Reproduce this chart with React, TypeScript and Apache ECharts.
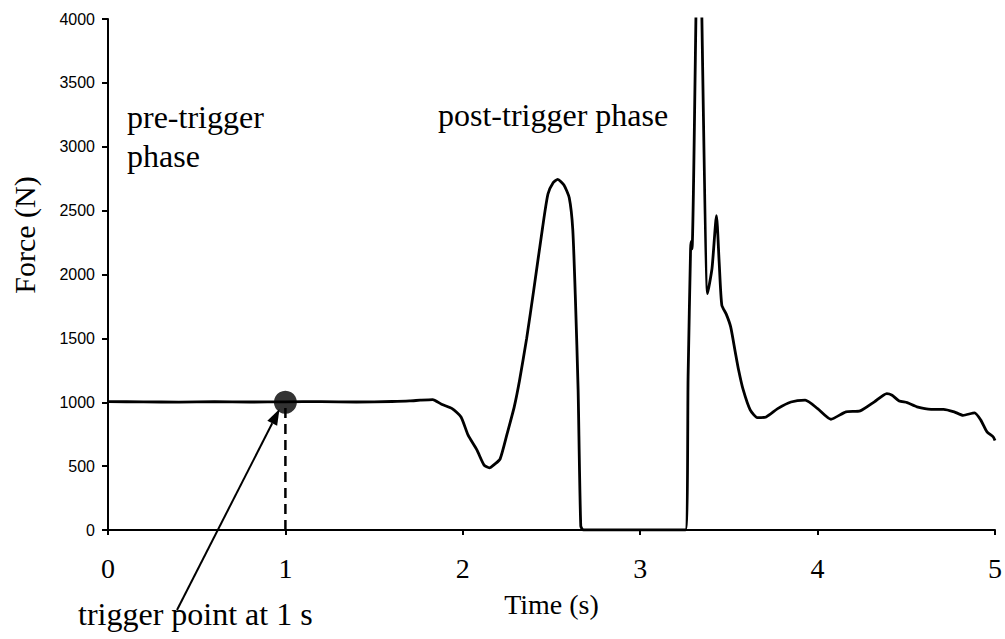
import React, { useEffect, useRef } from "react";
import * as echarts from "echarts";

const timeS: number[] = [
  0, 0.2, 0.4, 0.6, 0.8, 1.0, 1.2, 1.4, 1.6, 1.7, 1.76, 1.83, 1.88, 1.94, 1.99, 2.03, 2.08, 2.12, 2.15,
  2.18, 2.21, 2.25, 2.29, 2.32, 2.36, 2.4, 2.45, 2.48, 2.51, 2.535, 2.57, 2.6, 2.62, 2.635, 2.65, 2.665,
  2.68, 3.0, 3.255, 3.27, 3.284, 3.288, 3.292, 3.33, 3.38, 3.405, 3.43, 3.445, 3.46, 3.485, 3.51, 3.535,
  3.555, 3.58, 3.62, 3.66, 3.71, 3.775, 3.85, 3.93, 4.0, 4.075, 4.16, 4.24, 4.32, 4.39, 4.42, 4.46, 4.505,
  4.56, 4.64, 4.71, 4.77, 4.82, 4.885, 4.92, 4.955, 4.99, 5.0,
];
const forceN: number[] = [
  1005, 1003, 1001, 1004, 1002, 1003, 1005, 1002, 1006, 1010, 1016, 1021, 984, 950, 885, 742, 625, 508, 487,
  516, 555, 755, 964, 1172, 1500, 1880, 2370, 2630, 2720, 2745, 2700, 2600, 2350, 1800, 1100, 30,
  0, 0, 0, 1200, 2200, 2260, 2200, 5200, 1850, 2050, 2460, 2100, 1760, 1690, 1590, 1400,
  1250, 1100, 940, 880, 885, 950, 1002, 1016, 950, 867, 925, 932, 1003, 1068, 1055, 1010, 997,
  964, 945, 945, 925, 898, 917, 860, 768, 729, 700,
];
const xTicks: number[] = [0, 1, 2, 3, 4, 5];
const yTicks: number[] = [0, 500, 1000, 1500, 2000, 2500, 3000, 3500, 4000];
const triggerTime: number[] = [1];
const triggerForce: number[] = [1000];

const SERIF = "'Liberation Serif', 'Times New Roman', serif";

export default function App() {
  const ref = useRef<HTMLDivElement>(null);
  useEffect(() => {
    if (!ref.current) return;
    const chart = echarts.init(ref.current, undefined, { renderer: "svg" });
    const curve = timeS.map((t, i) => [t, forceN[i]]);
    const trig = triggerTime.map((t, i) => [t, triggerForce[i]]);
    const dashed = [
      [triggerTime[0], 0],
      [triggerTime[0], triggerForce[0]],
    ];
    // arrow geometry (annotation)
    const tail = [177, 610];
    const tip = [279.5, 409];
    const dx = tip[0] - tail[0];
    const dy = tip[1] - tail[1];
    const len = Math.sqrt(dx * dx + dy * dy);
    const ux = dx / len, uy = dy / len;
    const hl = 16, hw = 5.5;
    const bx = tip[0] - hl * ux, by = tip[1] - hl * uy;
    const nx = -uy, ny = ux;

    chart.setOption({
      animation: false,
      backgroundColor: "#ffffff",
      grid: { left: 108, right: 7, top: 19, bottom: 109, containLabel: false },
      xAxis: {
        type: "value",
        min: xTicks[0],
        max: xTicks[xTicks.length - 1],
        interval: 1,
        name: "Time (s)",
        nameLocation: "middle",
        nameGap: 60,
        nameTextStyle: { fontFamily: SERIF, fontSize: 28, color: "#000" },
        axisLine: { onZero: false, lineStyle: { color: "#000", width: 2 } },
        axisTick: { show: true, inside: false, length: 5, lineStyle: { color: "#000", width: 2 } },
        axisLabel: { fontFamily: SERIF, fontSize: 28, color: "#000", margin: 24, formatter: (v: number) => String(v) },
        splitLine: { show: false },
      },
      yAxis: {
        type: "value",
        min: yTicks[0],
        max: yTicks[yTicks.length - 1],
        interval: 500,
        axisLine: { show: true, lineStyle: { color: "#000", width: 2 } },
        axisTick: { show: true, inside: false, length: 6, lineStyle: { color: "#000", width: 2 } },
        axisLabel: {
          fontFamily: "'Liberation Sans', Arial, sans-serif",
          fontSize: 16,
          color: "#000",
          margin: 13,
          formatter: (v: number) => String(v),
        },
        splitLine: { show: false },
      },
      series: [
        {
          type: "line",
          data: curve,
          showSymbol: false,
          symbol: "none",
          smooth: 0.2,
          clip: true,
          lineStyle: { color: "#000", width: 2.8 },
          z: 3,
        },
        {
          type: "line",
          data: dashed,
          showSymbol: false,
          symbol: "none",
          lineStyle: { color: "#000", width: 2.5, type: [10, 6] },
          z: 2,
        },
        {
          type: "scatter",
          data: trig,
          symbol: "circle",
          symbolSize: 23,
          itemStyle: { color: "#000" },
          z: 5,
        },
      ],
      graphic: [
        {
          type: "text",
          x: 24,
          y: 235,
          rotation: Math.PI / 2,
          style: { text: "Force (N)", font: `30px ${SERIF}`, fill: "#000", align: "center", verticalAlign: "middle" },
        },
        {
          type: "text",
          x: 127,
          y: 117,
          style: { text: "pre-trigger", font: `32px ${SERIF}`, fill: "#000", align: "left", verticalAlign: "middle" },
        },
        {
          type: "text",
          x: 127,
          y: 156,
          style: { text: "phase", font: `32px ${SERIF}`, fill: "#000", align: "left", verticalAlign: "middle" },
        },
        {
          type: "text",
          x: 438,
          y: 115,
          style: { text: "post-trigger phase", font: `32px ${SERIF}`, fill: "#000", align: "left", verticalAlign: "middle" },
        },
        {
          type: "text",
          x: 78,
          y: 614,
          style: { text: "trigger point at 1 s", font: `32px ${SERIF}`, fill: "#000", align: "left", verticalAlign: "middle" },
        },
        {
          type: "line",
          shape: { x1: tail[0], y1: tail[1], x2: bx, y2: by },
          style: { stroke: "#000", lineWidth: 2 },
        },
        {
          type: "polygon",
          shape: {
            points: [
              [tip[0], tip[1]],
              [bx + hw * nx, by + hw * ny],
              [bx - hw * nx, by - hw * ny],
            ],
          },
          style: { fill: "#000" },
        },
      ],
    });
    return () => chart.dispose();
  }, []);
  return (
    <div
      ref={ref}
      style={{ position: "fixed", left: 0, top: 0, width: 1005, height: 639, background: "#fff" }}
    />
  );
}
